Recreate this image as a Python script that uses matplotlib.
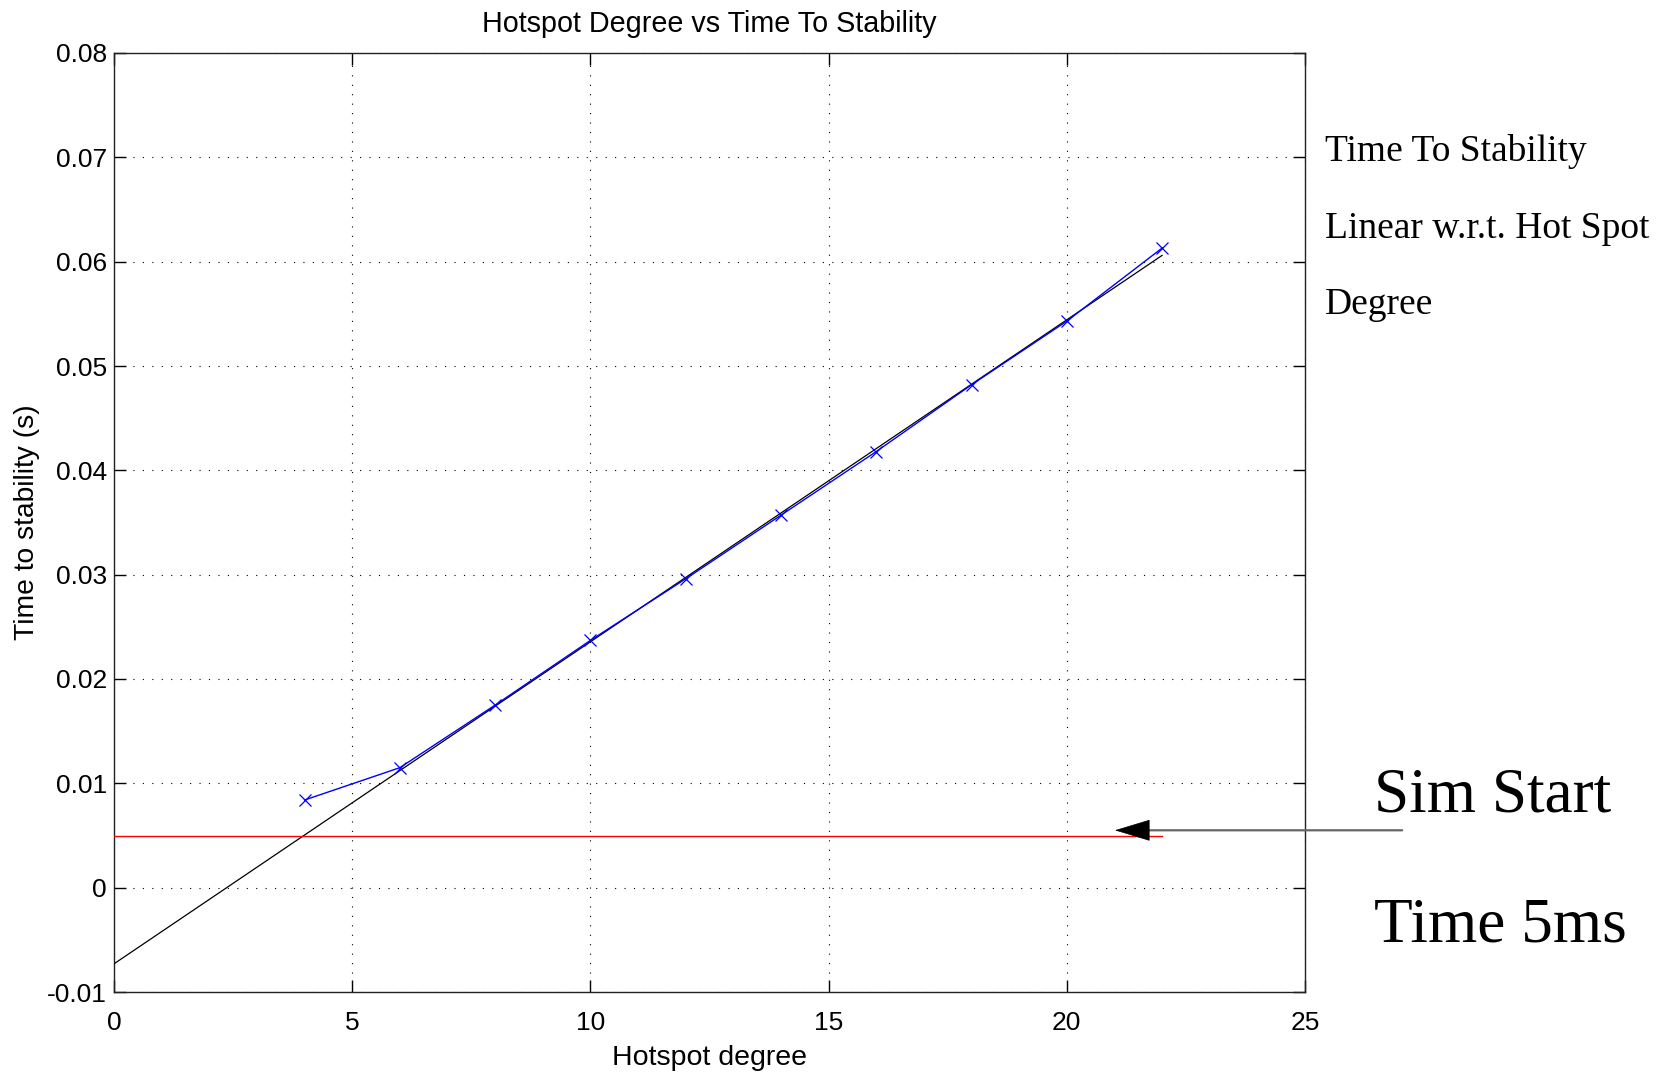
import matplotlib
matplotlib.use("Agg")
import matplotlib.pyplot as plt
import numpy as np

# ---- data ----
hotspot_degree = [4, 6, 8, 10, 12, 14, 16, 18, 20, 22]
time_to_stability = [0.0084, 0.0115, 0.0175, 0.0237, 0.0296, 0.0357, 0.0418, 0.0482, 0.0543, 0.0613]
fit_x = [0, 22]
fit_y = [-0.0073, 0.0606]
sim_start_x = [0, 22]
sim_start_y = [0.005, 0.005]
arrow_tail = (27.04, 0.0055)
arrow_head_base = (21.70, 0.0055)
arrow_tip = (21.01, 0.0055)
xticks = [0, 5, 10, 15, 20, 25]
yticks = [-0.01, 0, 0.01, 0.02, 0.03, 0.04, 0.05, 0.06, 0.07, 0.08]
ytick_labels = ["-0.01", "0", "0.01", "0.02", "0.03", "0.04", "0.05", "0.06", "0.07", "0.08"]

W, H = 1671, 1073
fig = plt.figure(figsize=(W / 100, H / 100), dpi=100)
fig.patch.set_facecolor("white")
ax = fig.add_axes([114 / W, 1 - 992 / H, (1305 - 114) / W, (992 - 53) / H])

sans = "Liberation Sans"
serif = "Liberation Serif"

ax.plot(fit_x, fit_y, color="black", lw=0.9, zorder=3)
ax.plot(sim_start_x, sim_start_y, color="red", lw=1.0, zorder=3)
ax.plot(hotspot_degree, time_to_stability, color="blue", lw=1.0, marker="x",
        markersize=9, markeredgewidth=0.9, zorder=4)

ax.set_xlim(0, 25)
ax.set_ylim(-0.01, 0.08)
ax.set_xticks(xticks)
ax.set_xticklabels([str(t) for t in xticks])
ax.set_yticks(yticks)
ax.set_yticklabels(ytick_labels)

ax.grid(True, color="black", linestyle=(0, (1, 7.5)), linewidth=0.8)
ax.tick_params(direction="in", length=8.5, width=1.0, top=True, right=True,
               labelsize=19, colors="black")
ax.tick_params(axis="x", pad=14)
ax.tick_params(axis="y", pad=5)
for lab in ax.get_xticklabels() + ax.get_yticklabels():
    lab.set_fontfamily(sans)
for sp in ax.spines.values():
    sp.set_linewidth(1.0)
    sp.set_color("#222222")

ax.set_title("Hotspot Degree vs Time To Stability", fontsize=20.7, family=sans, pad=15)
ax.set_xlabel("Hotspot degree", fontsize=20.5, family=sans)
ax.set_ylabel("Time to stability (s)", fontsize=20.3, family=sans)
ax.xaxis.set_label_coords(0.5, (992 - 1058) / 939)
ax.xaxis.label.set_va("center")
ax.yaxis.set_label_coords((27 - 114) / 1191, 0.5)
ax.yaxis.label.set_va("center")

# arrow: gray shaft + black head
ax.annotate("", xy=arrow_head_base, xytext=arrow_tail, xycoords="data",
            arrowprops=dict(arrowstyle="-", color="#666666", lw=1.6,
                            shrinkA=0, shrinkB=0), annotation_clip=False)
ax.annotate("", xy=arrow_tip, xytext=arrow_head_base, xycoords="data",
            arrowprops=dict(arrowstyle="-|>,head_length=23.8,head_width=7.2",
                            mutation_scale=1, color="black", lw=0.5,
                            shrinkA=0, shrinkB=0), annotation_clip=False)

# side texts
fig.text(1325 / W, 1 - 161 / H, "Time To Stability", family=serif, fontsize=27, va="baseline")
fig.text(1325 / W, 1 - 238 / H, "Linear w.r.t. Hot Spot", family=serif, fontsize=27, va="baseline")
fig.text(1325 / W, 1 - 314 / H, "Degree", family=serif, fontsize=27, va="baseline")
fig.text(1374 / W, 1 - 811 / H, "Sim Start", family=serif, fontsize=45.5, va="baseline")
fig.text(1374 / W, 1 - 942 / H, "Time 5ms", family=serif, fontsize=45.5, va="baseline")

fig.savefig("out.png", dpi=100, facecolor="white")
